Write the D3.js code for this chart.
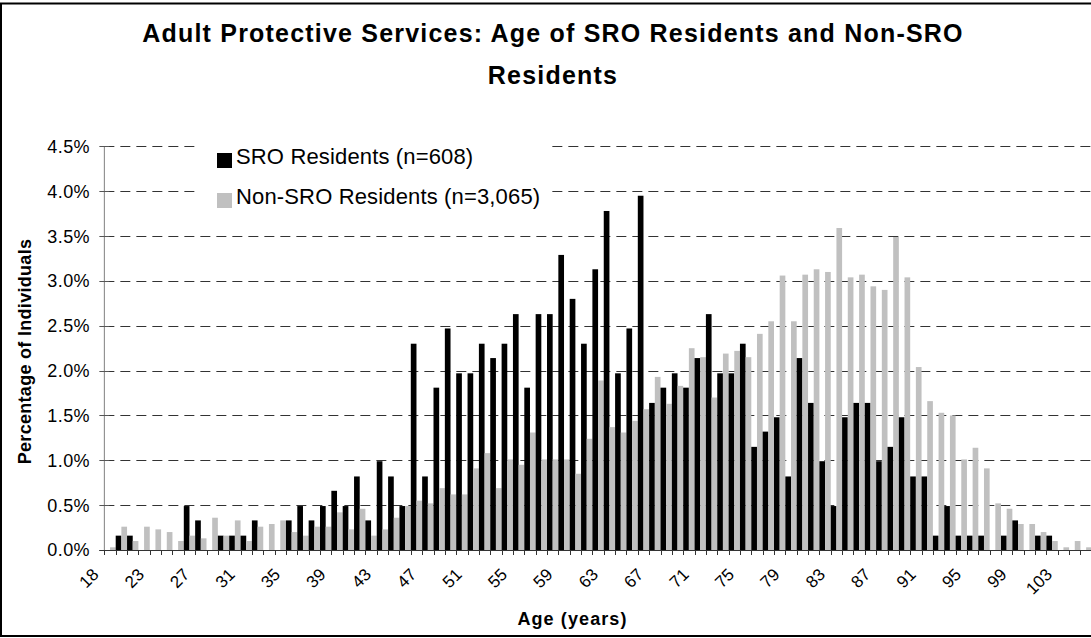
<!DOCTYPE html>
<html>
<head>
<meta charset="utf-8">
<script src="https://cdn.jsdelivr.net/npm/d3@7"></script>
<style>
  html, body { margin: 0; padding: 0; background: #fff; }
  svg { display: block; font-family: "Liberation Sans", Arial, sans-serif; }
</style>
</head>
<body>
<svg id="chart" width="1091" height="638"></svg>
<script>
// Age categories (no one aged 19 in the data set)
const ages = [18, 20, 21, 22, 23, 24, 25, 26, 27, 28, 29, 30, 31, 32, 33, 34, 35, 36, 37, 38, 39,
  40, 41, 42, 43, 44, 45, 46, 47, 48, 49, 50, 51, 52, 53, 54, 55, 56, 57, 58, 59,
  60, 61, 62, 63, 64, 65, 66, 67, 68, 69, 70, 71, 72, 73, 74, 75, 76, 77, 78, 79,
  80, 81, 82, 83, 84, 85, 86, 87, 88, 89, 90, 91, 92, 93, 94, 95, 96, 97, 98, 99,
  100, 101, 102, 103, 104, 105, 106];

// Percentage of individuals at each age, SRO residents (n=608)
const sroPct = [0, 0, 0.16, 0.16, 0, 0, 0, 0, 0.49, 0.33, 0, 0.16, 0.16, 0.16, 0.33, 0, 0, 0.33, 0.49, 0.33, 0.49,
  0.66, 0.49, 0.82, 0.33, 0.99, 0.82, 0.49, 2.30, 0.82, 1.81, 2.47, 1.97, 1.97, 2.30, 2.14, 2.30, 2.63, 1.81, 2.63, 2.63,
  3.29, 2.80, 2.30, 3.13, 3.78, 1.97, 2.47, 3.95, 1.64, 1.81, 1.97, 1.81, 2.14, 2.63, 1.97, 1.97, 2.30, 1.15, 1.32, 1.48,
  0.82, 2.14, 1.64, 0.99, 0.49, 1.48, 1.64, 1.64, 0.99, 1.15, 1.48, 0.82, 0.82, 0.16, 0.49, 0.16, 0.16, 0.16, 0, 0.16,
  0.33, 0, 0.16, 0.16, 0, 0, 0];

// Percentage of individuals at each age, non-SRO residents (n=3,065)
const nonSroPct = [0, 0.03, 0.26, 0.10, 0.26, 0.23, 0.20, 0.10, 0.16, 0.13, 0.36, 0.16, 0.33, 0.10, 0.26, 0.29, 0.33, 0.20, 0.16, 0.26, 0.26,
  0.42, 0.23, 0.46, 0.16, 0.23, 0.36, 0.49, 0.55, 0.52, 0.69, 0.62, 0.62, 0.91, 1.08, 0.69, 1.01, 0.95, 1.31, 1.01, 1.01,
  1.01, 0.85, 1.24, 1.89, 1.37, 1.31, 1.44, 1.57, 1.93, 1.63, 1.83, 2.25, 2.15, 1.70, 2.19, 2.22, 2.15, 2.41, 2.55, 3.06,
  2.55, 3.07, 3.13, 3.10, 3.59, 3.04, 3.07, 2.94, 2.90, 3.49, 3.04, 2.04, 1.66, 1.53, 1.50, 1.01, 1.14, 0.91, 0.52, 0.46,
  0.29, 0.29, 0.20, 0.10, 0.03, 0.10, 0.03];

const yTicks = [0, 0.5, 1.0, 1.5, 2.0, 2.5, 3.0, 3.5, 4.0, 4.5];
const xTickLabels = [18, 23, 27, 31, 35, 39, 43, 47, 51, 55, 59, 63, 67, 71, 75, 79, 83, 87, 91, 95, 99, 103];
const seriesNames = ["SRO Residents (n=608)", "Non-SRO Residents (n=3,065)"];
const seriesKeys = ["sro", "non"];
const seriesColors = ["#000000", "#c0c0c0"];
const titleLines = ["Adult Protective Services: Age of SRO Residents and Non-SRO", "Residents"];

const svg = d3.select("#chart");

// Outer chart frame
svg.append("rect")
  .attr("x", 1).attr("y", 3.5).attr("width", 1100).attr("height", 632.5)
  .attr("fill", "#fff").attr("stroke", "#000").attr("stroke-width", 2);

// Scales: the value axis crosses at the start of the second category
const bandW = 11.35;
const plotLeft = 104.35 - bandW;
const x = d3.scaleBand().domain(ages).range([plotLeft, plotLeft + ages.length * bandW]).padding(0);
const xs = d3.scaleBand().domain(seriesKeys).range([0, x.bandwidth()]).padding(0);
const y = d3.scaleLinear().domain([0, 4.5]).range([550, 146.4]);
const axisX = x(ages[1]);
const rightEdge = 1092;

// Dashed horizontal gridlines
svg.append("g").selectAll("line")
  .data(yTicks.filter(t => t > 0))
  .join("line")
  .attr("x1", axisX).attr("x2", rightEdge)
  .attr("y1", d => Math.round(y(d)) + 0.5).attr("y2", d => Math.round(y(d)) + 0.5)
  .attr("stroke", "#333").attr("stroke-width", 1)
  .attr("stroke-dasharray", "10,6");

// Bars
const rows = ages.map((a, i) => ({ age: a, sro: sroPct[i], non: nonSroPct[i] }));
const groups = svg.append("g").selectAll("g")
  .data(rows)
  .join("g")
  .attr("transform", d => `translate(${x(d.age)},0)`);
groups.selectAll("rect")
  .data(d => seriesKeys.map((k, j) => ({ key: k, value: d[k], color: seriesColors[j] })))
  .join("rect")
  .attr("x", d => xs(d.key))
  .attr("width", xs.bandwidth())
  .attr("y", d => y(d.value))
  .attr("height", d => y(0) - y(d.value))
  .attr("fill", d => d.color);

// Value axis
const yAxis = svg.append("g");
yAxis.append("line")
  .attr("x1", axisX).attr("x2", axisX)
  .attr("y1", y(4.5)).attr("y2", y(0))
  .attr("stroke", "#808080").attr("stroke-width", 1);
yAxis.selectAll("line.tick")
  .data(yTicks)
  .join("line")
  .attr("class", "tick")
  .attr("x1", axisX - 5).attr("x2", axisX + 5)
  .attr("y1", d => Math.round(y(d)) + 0.5).attr("y2", d => Math.round(y(d)) + 0.5)
  .attr("stroke", "#555");
yAxis.selectAll("text")
  .data(yTicks)
  .join("text")
  .attr("x", 90)
  .attr("y", d => y(d))
  .attr("dy", "0.36em")
  .attr("text-anchor", "end")
  .attr("font-size", 18)
  .attr("letter-spacing", 0.4)
  .attr("fill", "#000")
  .text(d => d3.format(".1f")(d) + "%");

// Category axis
const xAxis = svg.append("g");
xAxis.append("line")
  .attr("x1", axisX - 5).attr("x2", rightEdge)
  .attr("y1", y(0) + 0.5).attr("y2", y(0) + 0.5)
  .attr("stroke", "#333").attr("stroke-width", 1);
xAxis.selectAll("line.tick")
  .data(ages.slice(1))
  .join("line")
  .attr("class", "tick")
  .attr("x1", d => Math.round(x(d)) + 0.5).attr("x2", d => Math.round(x(d)) + 0.5)
  .attr("y1", y(0)).attr("y2", y(0) + 5)
  .attr("stroke", "#333");
xAxis.selectAll("text")
  .data(xTickLabels)
  .join("text")
  .attr("transform", d => `translate(${x(d) + x.bandwidth() / 2 + 1},575.5) rotate(-45)`)
  .attr("text-anchor", "end")
  .attr("font-size", 17)
  .attr("fill", "#000")
  .text(d => d);

// Axis titles
svg.append("text")
  .attr("transform", "translate(31,351.5) rotate(-90)")
  .attr("text-anchor", "middle")
  .attr("font-size", 18).attr("font-weight", "bold")
  .attr("letter-spacing", 0.3)
  .text("Percentage of Individuals");
svg.append("text")
  .attr("x", 572.5).attr("y", 624.5)
  .attr("text-anchor", "middle")
  .attr("font-size", 18).attr("font-weight", "bold")
  .attr("letter-spacing", 1.1)
  .text("Age (years)");

// Chart title
svg.append("g").selectAll("text")
  .data(titleLines)
  .join("text")
  .attr("x", 553)
  .attr("y", (d, i) => 42 + i * 42)
  .attr("text-anchor", "middle")
  .attr("font-size", 25).attr("font-weight", "bold")
  .attr("letter-spacing", 1.2)
  .text(d => d);

// Legend on a white panel over the gridlines
const legend = svg.append("g");
legend.append("rect")
  .attr("x", 196).attr("y", 134).attr("width", 352).attr("height", 82)
  .attr("fill", "#fff");
const items = legend.selectAll("g")
  .data(seriesNames)
  .join("g")
  .attr("transform", (d, i) => `translate(217,${153 + i * 40})`);
items.append("rect")
  .attr("width", 15).attr("height", 15)
  .attr("fill", (d, i) => seriesColors[i]);
items.append("text")
  .attr("x", 19).attr("y", 11)
  .attr("font-size", 22)
  .attr("letter-spacing", 0.15)
  .text(d => d);
</script>
</body>
</html>
